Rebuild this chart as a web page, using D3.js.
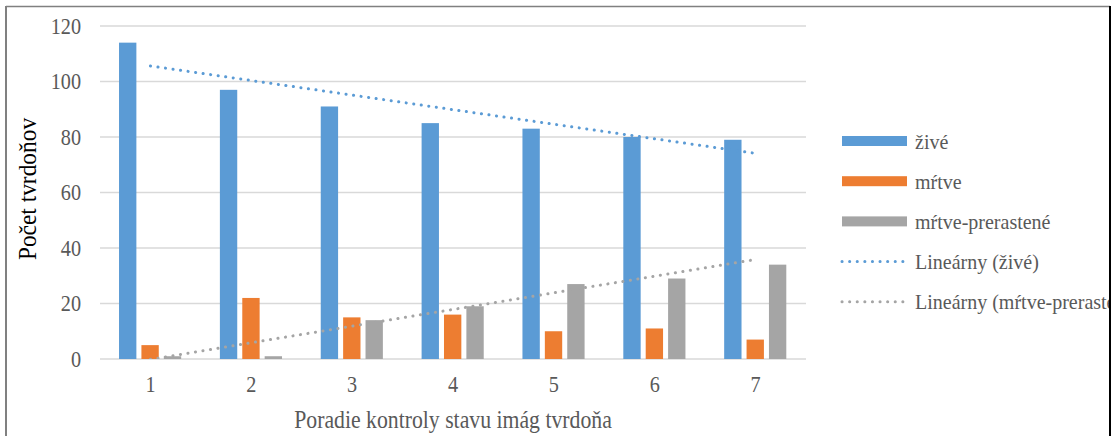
<!DOCTYPE html>
<html>
<head>
<meta charset="utf-8">
<script src="https://cdn.jsdelivr.net/npm/d3@7"></script>
<style>
  body { margin: 0; background: #fff; }
  text { font-family: "Liberation Serif", "Times New Roman", "DejaVu Serif", serif; }
</style>
</head>
<body>
<div id="chart"></div>
<script>
var categories = ['1', '2', '3', '4', '5', '6', '7'];
var zive = [114, 97, 91, 85, 83, 80, 79];
var mrtve = [5, 22, 15, 16, 10, 11, 7];
var prerastene = [1, 1, 14, 19, 27, 29, 34];
var yTicks = [0, 20, 40, 60, 80, 100, 120];

var series = [
  {name: 'živé', values: zive, color: '#5b9bd5'},
  {name: 'mŕtve', values: mrtve, color: '#ed7d31'},
  {name: 'mŕtve-prerastené', values: prerastene, color: '#a5a5a5'}
];
var trends = [
  {name: 'Lineárny (živé)', values: zive, color: '#5b9bd5'},
  {name: 'Lineárny (mŕtve-prerastené)', values: prerastene, color: '#a5a5a5'}
];

var width = 1115, height = 436,
    plot = {left: 100, right: 806, top: 26, bottom: 359};

var svg = d3.select('#chart').append('svg')
  .attr('width', width)
  .attr('height', height);

var defs = svg.append('defs');
defs.append('clipPath').attr('id', 'box')
  .append('rect').attr('x', 7).attr('y', 7).attr('width', 1102).attr('height', 440);
defs.append('clipPath').attr('id', 'plot')
  .append('rect').attr('x', plot.left).attr('y', plot.top - 5)
  .attr('width', plot.right - plot.left).attr('height', plot.bottom - plot.top + 5);

var x = d3.scaleBand().domain(categories).range([plot.left, plot.right]);
var y = d3.scaleLinear().domain([0, 120]).range([plot.bottom, plot.top]);

// gridlines
svg.append('g').selectAll('line').data(yTicks).enter().append('line')
  .attr('x1', plot.left).attr('x2', plot.right)
  .attr('y1', function(d) { return y(d); })
  .attr('y2', function(d) { return y(d); })
  .attr('stroke', '#d9d9d9')
  .attr('stroke-width', 1.5);

// y axis labels
var yAxis = d3.axisLeft(y).tickValues(yTicks).tickSize(0).tickPadding(0);
svg.append('g')
  .attr('transform', 'translate(81,0)')
  .call(yAxis)
  .call(function(g) {
    g.select('.domain').remove();
    g.selectAll('text')
      .attr('font-size', 23)
      .attr('transform', 'scale(0.88,1)')
      .attr('fill', '#595959');
  });

// x axis labels
var xAxis = d3.axisBottom(x).tickSize(0).tickPadding(0);
svg.append('g')
  .attr('transform', 'translate(0,376)')
  .call(xAxis)
  .call(function(g) {
    g.select('.domain').remove();
    g.selectAll('text')
      .attr('font-size', 23)
      .attr('transform', 'scale(0.88,1)')
      .attr('fill', '#595959');
  });

// bars
var bw = x.bandwidth();
var barW = bw * 0.172, step = bw * 0.222;
series.forEach(function(s, i) {
  svg.append('g').selectAll('rect').data(s.values).enter().append('rect')
    .attr('x', function(d, j) { return x(categories[j]) + bw / 2 - 31.4 + i * step; })
    .attr('y', function(d) { return y(d); })
    .attr('width', barW)
    .attr('height', function(d) { return y(0) - y(d); })
    .attr('fill', s.color);
});

// linear trend lines (least squares)
function fit(vals) {
  var xs = vals.map(function(d, i) { return i + 1; });
  var mx = d3.mean(xs), my = d3.mean(vals);
  var sxy = d3.sum(xs, function(xi, i) { return (xi - mx) * (vals[i] - my); });
  var sxx = d3.sum(xs, function(xi) { return (xi - mx) * (xi - mx); });
  var b = sxy / sxx;
  return function(xi) { return my + b * (xi - mx); };
}
var line = d3.line()
  .x(function(d) { return x(categories[d[0] - 1]) + bw / 2; })
  .y(function(d) { return y(d[1]); });
trends.forEach(function(t) {
  var f = fit(t.values);
  var pts = [[1, f(1)], [categories.length, f(categories.length)]];
  svg.append('path')
    .attr('clip-path', 'url(#plot)')
    .attr('d', line(pts))
    .attr('fill', 'none')
    .attr('stroke', t.color)
    .attr('stroke-width', 3)
    .attr('stroke-linecap', 'round')
    .attr('stroke-dasharray', '0.1 7.5');
});

// axis titles
svg.append('text')
  .attr('transform', 'translate(36,189) rotate(-90) scale(0.9,1)')
  .attr('text-anchor', 'middle')
  .attr('font-size', 26)
  .attr('fill', '#000')
  .text('Počet tvrdoňov');

svg.append('text')
  .attr('transform', 'translate(453,428) scale(0.87,1)')
  .attr('text-anchor', 'middle')
  .attr('font-size', 25)
  .attr('fill', '#595959')
  .text('Poradie kontroly stavu imág tvrdoňa');

// legend
var legend = svg.append('g').attr('clip-path', 'url(#box)');
var items = series.map(function(s) { return {name: s.name, color: s.color, type: 'bar'}; })
  .concat(trends.map(function(t) { return {name: t.name, color: t.color, type: 'line'}; }));
items.forEach(function(it, i) {
  var cy = 141 + i * 40.2;
  if (it.type === 'bar') {
    legend.append('rect')
      .attr('x', 842).attr('y', cy - 5)
      .attr('width', 65).attr('height', 10)
      .attr('fill', it.color);
  } else {
    legend.append('line')
      .attr('x1', 842).attr('x2', 907)
      .attr('y1', cy).attr('y2', cy)
      .attr('stroke', it.color)
      .attr('stroke-width', 3)
      .attr('stroke-linecap', 'round')
      .attr('stroke-dasharray', '0.1 7.5');
  }
  legend.append('text')
    .attr('transform', 'translate(915,' + (cy + 7.5) + ') scale(0.91,1)')
    .attr('font-size', 22)
    .attr('fill', '#595959')
    .text(it.name);
});

// chart border
svg.append('line').attr('x1', 6).attr('x2', 6).attr('y1', 6).attr('y2', height)
  .attr('stroke', '#808080').attr('stroke-width', 2);
svg.append('line').attr('x1', 6).attr('x2', 1110).attr('y1', 6.5).attr('y2', 6.5)
  .attr('stroke', '#808080').attr('stroke-width', 1.5);
svg.append('line').attr('x1', 1110).attr('x2', 1110).attr('y1', 6).attr('y2', height)
  .attr('stroke', '#000').attr('stroke-width', 2);
</script>
</body>
</html>
